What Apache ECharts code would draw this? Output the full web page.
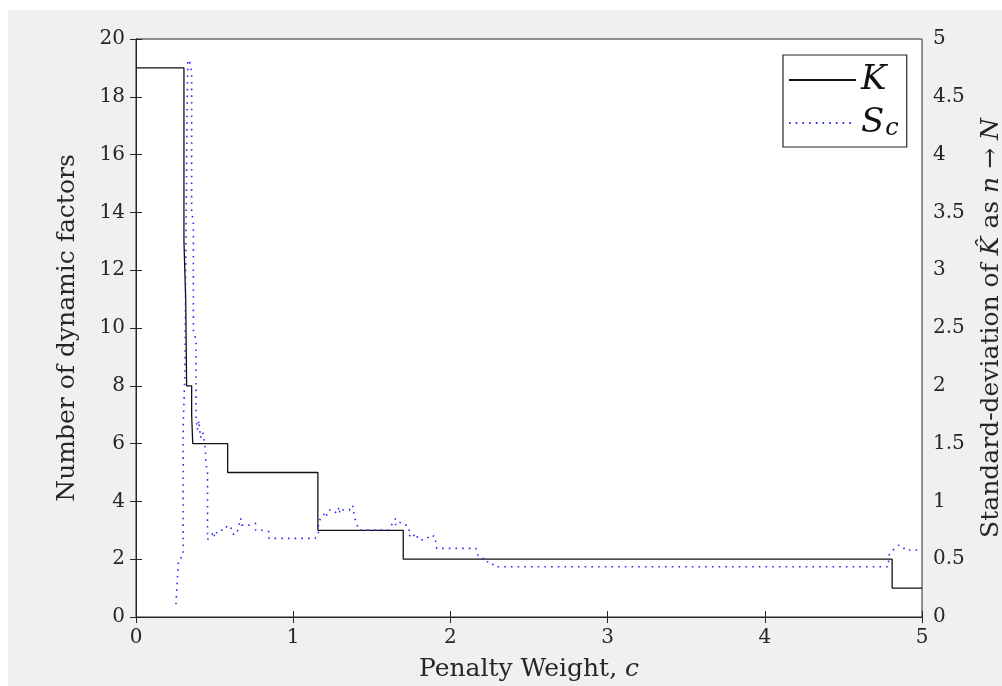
<!DOCTYPE html>
<html>
<head>
<meta charset="utf-8">
<script src="https://cdn.jsdelivr.net/npm/echarts@6/dist/echarts.min.js"></script>
<style>
  html, body { margin: 0; padding: 0; background: #ffffff; }
  #panel { position: absolute; left: 8px; top: 10px; right: 0; bottom: 0; background: #f0f0f0; }
  #chart { position: absolute; left: 0; top: 0; width: 1002px; height: 686px; }
</style>
</head>
<body>
<div id="panel"></div>
<div id="chart"></div>
<script>
// Number of factors K chosen for each penalty weight c (step changes at each x)
const kSteps = [0, 0.305, 0.316, 0.322, 0.354, 0.361, 0.583, 1.157, 1.70, 4.81, 5.0];
const kValues = [19, 13, 11, 8, 7, 6, 5, 3, 2, 1, 1];

// Standard deviation S_c of the estimated K as n -> N
const scX = [0.254, 0.262, 0.270, 0.300, 0.300, 0.311, 0.318, 0.325, 0.330, 0.342, 0.354, 0.354,
  0.365, 0.365, 0.382, 0.382, 0.390, 0.400, 0.410, 0.425, 0.440, 0.445, 0.455, 0.455, 0.465,
  0.498, 0.498, 0.520, 0.562, 0.583, 0.594, 0.604, 0.615, 0.630, 0.647, 0.666, 0.672, 0.721,
  0.761, 0.761, 0.800, 0.846, 0.846, 1.139, 1.160, 1.160, 1.181, 1.202, 1.210, 1.223, 1.255,
  1.277, 1.293, 1.297, 1.315, 1.357, 1.378, 1.389, 1.410, 1.420, 1.605, 1.652, 1.652, 1.673,
  1.705, 1.726, 1.737, 1.737, 1.768, 1.768, 1.800, 1.821, 1.853, 1.875, 1.906, 1.906, 1.913,
  2.163, 2.174, 2.205, 2.216, 2.258, 2.280, 2.290, 4.785, 4.790, 4.820, 4.850, 4.880, 4.890, 5.000];
const scValues = [0.11, 0.30, 0.49, 0.53, 1.65, 2.10, 3.30, 4.40, 4.82, 4.80, 4.71, 3.52,
  3.40, 2.48, 2.40, 1.73, 1.62, 1.70, 1.55, 1.60, 1.46, 1.33, 1.25, 0.67, 0.665,
  0.737, 0.69, 0.75, 0.75, 0.795, 0.81, 0.77, 0.72, 0.71, 0.75, 0.853, 0.795, 0.795,
  0.81, 0.75, 0.75, 0.737, 0.68, 0.68, 0.71, 0.82, 0.867, 0.896, 0.867, 0.925, 0.925,
  0.896, 0.953, 0.896, 0.925, 0.925, 0.968, 0.867, 0.78, 0.752, 0.752, 0.853, 0.795, 0.824,
  0.795, 0.795, 0.752, 0.70, 0.723, 0.68, 0.70, 0.666, 0.68, 0.71, 0.694, 0.637, 0.594,
  0.594, 0.536, 0.52, 0.478, 0.478, 0.435, 0.435, 0.435, 0.536, 0.585, 0.62, 0.61, 0.58, 0.58];

const xTicks = { min: 0, max: 5, interval: 1 };
const leftTicks = { min: 0, max: 20, interval: 2 };
const rightTicks = { min: 0, max: 5, interval: 0.5 };

const FONT = 'DejaVu Serif';
const INK = '#262626';

const kData = kSteps.map((x, i) => [x, kValues[i]]);
const scData = scX.map((x, i) => [x, scValues[i]]);

const tickLabel = { fontFamily: FONT, fontSize: 20, color: INK, margin: 11 };
const axisLine = { show: true, lineStyle: { color: INK, width: 1 } };
const axisTick = { show: true, inside: true, length: 6, lineStyle: { color: INK, width: 1 } };
const nameStyle = {
  fontFamily: FONT, fontSize: 25, color: INK,
  rich: { i: { fontFamily: FONT, fontStyle: 'italic', fontSize: 25, color: INK } }
};

const chart = echarts.init(document.getElementById('chart'), null, { renderer: 'canvas' });
chart.setOption({
  animation: false,
  backgroundColor: 'transparent',
  grid: {
    left: 136, right: 80, top: 39, bottom: 69,
    outerBoundsMode: 'none', containLabel: false,
    show: true, backgroundColor: '#ffffff', borderColor: INK, borderWidth: 1
  },
  legend: {
    orient: 'vertical',
    left: 783, top: 55,
    padding: [7, 8, 6, 5],
    itemWidth: 67, itemHeight: 14, itemGap: 7,
    borderColor: INK, borderWidth: 1.2, backgroundColor: '#ffffff',
    itemStyle: { opacity: 0 },
    textStyle: {
      fontFamily: FONT, fontStyle: 'italic', fontSize: 34, color: '#111', lineHeight: 36,
      rich: {
        s: { fontFamily: FONT, fontStyle: 'italic', fontSize: 34, color: '#111' },
        sub: { fontFamily: FONT, fontStyle: 'italic', fontSize: 24, color: '#111', verticalAlign: 'bottom', padding: [14, 0, 0, 1] }
      }
    },
    formatter: name => name === 'Sc' ? '{s|S}{sub|c}' : name,
    data: ['K', 'Sc']
  },
  xAxis: [{
    type: 'value', ...xTicks, position: 'bottom',
    axisLine, axisTick, splitLine: { show: false },
    axisLabel: tickLabel,
    name: 'Penalty Weight, {i|c}', nameLocation: 'middle', nameGap: 40,
    nameTextStyle: nameStyle
  }, {
    type: 'value', ...xTicks, position: 'top',
    axisLine, axisTick, splitLine: { show: false },
    axisLabel: { show: false }
  }],
  yAxis: [{
    type: 'value', ...leftTicks, position: 'left',
    axisLine, axisTick, splitLine: { show: false },
    axisLabel: tickLabel,
    name: 'Number of dynamic factors', nameLocation: 'middle', nameGap: 56, nameRotate: 90,
    nameTextStyle: nameStyle
  }, {
    type: 'value', ...rightTicks, position: 'right',
    axisLine, axisTick, splitLine: { show: false },
    axisLabel: tickLabel,
    name: 'Standard-deviation of {i|K\u0302} as {i|n} \u2192 {i|N}', nameLocation: 'middle', nameGap: 57, nameRotate: 90,
    nameTextStyle: nameStyle
  }],
  series: [{
    name: 'K', type: 'line', step: 'end', xAxisIndex: 0, yAxisIndex: 0,
    data: kData, symbol: 'none',
    lineStyle: { color: '#111111', width: 1.3 }, itemStyle: { color: '#111111' }
  }, {
    name: 'Sc', type: 'line', xAxisIndex: 0, yAxisIndex: 1,
    data: scData, symbol: 'none',
    lineStyle: { color: '#2a2aff', width: 1.6, type: [1.6, 5.1] }, itemStyle: { color: '#2a2aff' }
  }]
});
</script>
</body>
</html>
